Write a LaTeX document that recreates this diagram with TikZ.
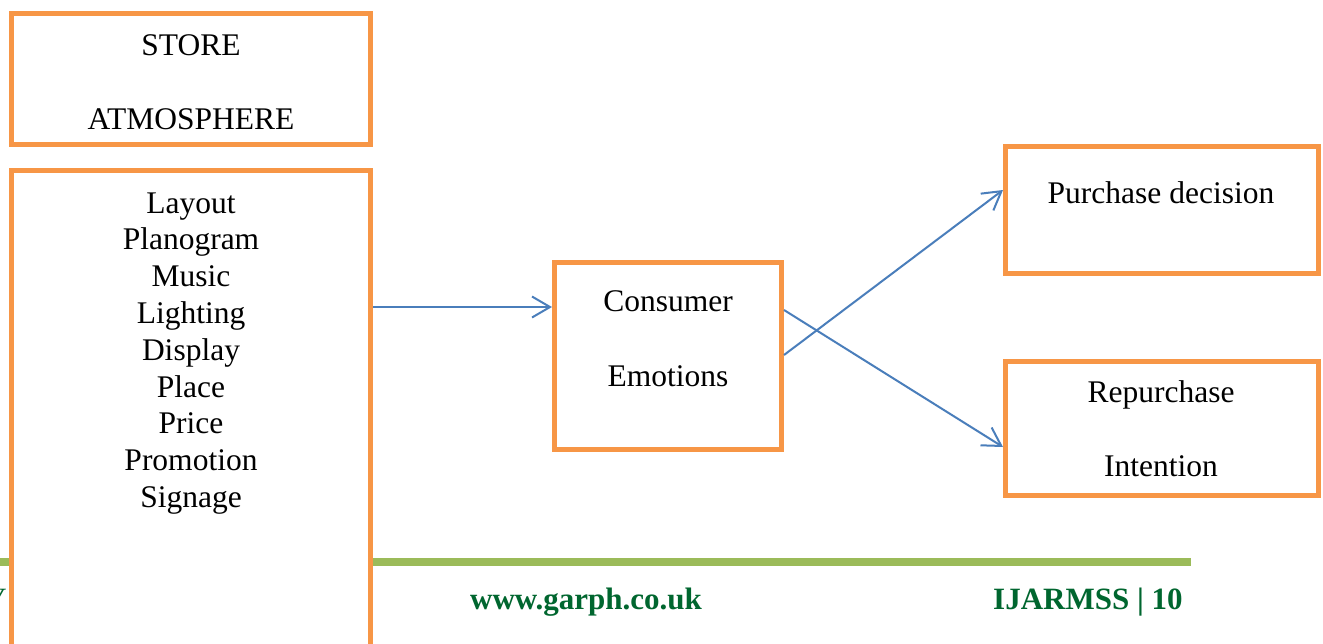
\documentclass[tikz,border=0pt]{standalone}
\usepackage{fontspec}
\setmainfont{Liberation Serif}
\usetikzlibrary{arrows.meta}
\definecolor{boxorange}{HTML}{F79646}
\definecolor{arrowblue}{HTML}{4A7EBB}
\definecolor{barGreen}{HTML}{9BBB59}
\definecolor{footGreen}{HTML}{00662F}
\tikzset{
  obox/.style={draw=boxorange, line width=5pt, fill=white, rectangle, inner sep=0pt},
  txt/.style={anchor=base, inner sep=0pt, font=\fontsize{31.5}{36.8}\selectfont},
  foot/.style={anchor=base west, inner sep=0pt, text=footGreen, font=\fontsize{31}{36}\selectfont\bfseries},
  conn/.style={draw=arrowblue, line width=2pt, -{Straight Barb[length=18pt, width=21pt, line width=2pt]}}
}
\begin{document}
\begin{tikzpicture}[x=1pt, y=-1pt]
\useasboundingbox (0,0) rectangle (1323,643);
\clip (0,0) rectangle (1323,643);
\fill[white] (0,0) rectangle (1323,643);
% footer
\fill[barGreen] (0,558) rectangle (1191,566);
\node[foot, font=\fontsize{31}{36}\selectfont\itshape] (vol) at (-16,609) {V};
\node[foot] (web) at (470,609) {www.garph.co.uk};
\node[foot] (jour) at (993,609) {IJARMSS | 10};
% boxes
\node[obox, minimum width=359pt, minimum height=131pt] (store) at (191,79) {};
\node[obox, minimum width=359pt, minimum height=560pt] (list) at (191,450.5) {};
\node[obox, minimum width=227pt, minimum height=187pt] (cons) at (668,356) {};
\node[obox, minimum width=313pt, minimum height=127pt] (purch) at (1162,210) {};
\node[obox, minimum width=313pt, minimum height=134pt] (repur) at (1162,428.5) {};
% texts
\node[txt] (t1) at (191,55) {STORE};
\node[txt] (t2) at (191,129) {ATMOSPHERE};
\foreach \w [count=\i from 0] in {Layout,Planogram,Music,Lighting,Display,Place,Price,Promotion,Signage}
  \node[txt] (l\i) at (191,{213+36.8*\i}) {\w};
\node[txt] (c1) at (668,311) {Consumer};
\node[txt] (c2) at (668,386) {Emotions};
\node[txt] (p1) at (1161,203) {Purchase decision};
\node[txt] (r1) at (1161,402) {Repurchase};
\node[txt] (r2) at (1161,476) {Intention};
% connector anchors
\coordinate (y1) at (0,307);
\coordinate (y2) at (0,355);
\coordinate (y3) at (0,310);
\coordinate (y4) at (0,190);
\coordinate (y5) at (0,447);
\draw[conn] (list.east |- y1) -- (cons.west |- y1);
\draw[conn] (cons.east |- y2) -- (purch.west |- y4);
\draw[conn] (cons.east |- y3) -- (repur.west |- y5);
\end{tikzpicture}
\end{document}
